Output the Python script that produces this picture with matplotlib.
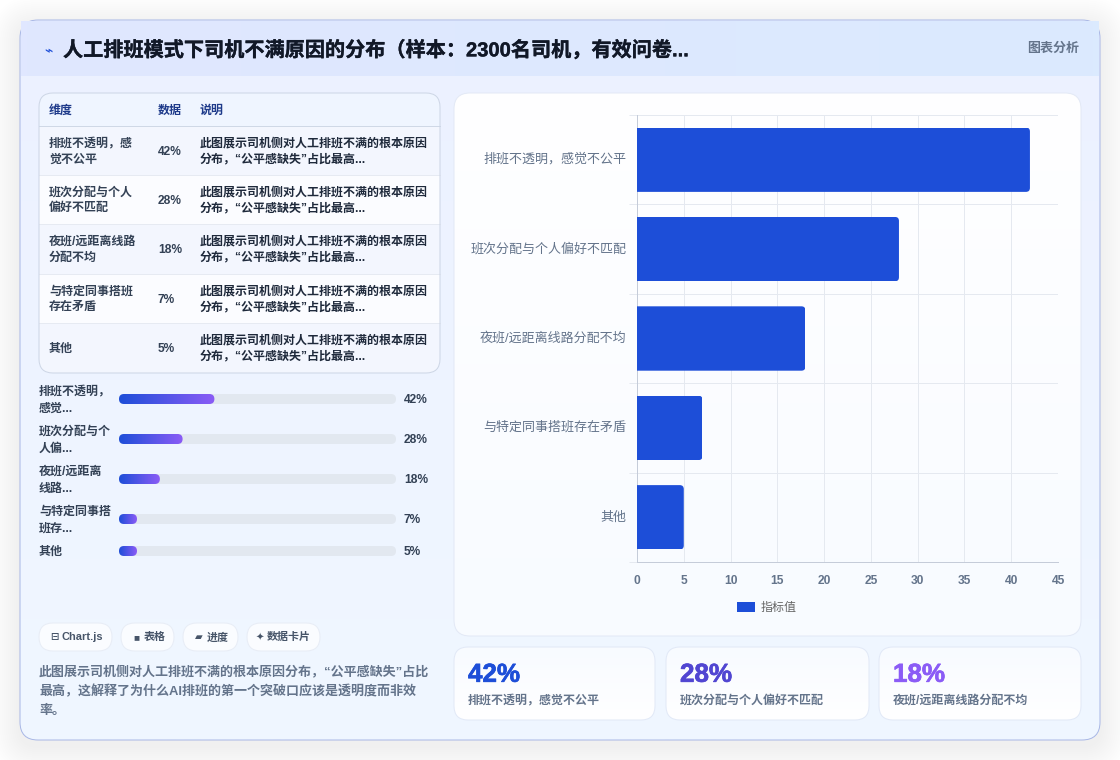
"""
plot.py
-------
Dashboard card: reasons drivers give for disliking manual scheduling.
Table, progress bars, horizontal bar chart and KPI cards. Saves out.png.
"""

import numpy as np
import matplotlib
matplotlib.use("Agg")
import matplotlib.pyplot as plt
import matplotlib.patheffects as pe
from matplotlib.colors import LinearSegmentedColormap
from matplotlib.patches import FancyBboxPatch, Rectangle

plt.rcParams["font.family"] = ["Liberation Sans", "Noto Sans CJK SC", "DejaVu Sans"]
plt.rcParams["text.kerning_factor"] = 0

TITLE = "人工排班模式下司机不满原因的分布（样本：2300名司机，有效问卷..."
BADGE = "图表分析"

reasons = ["排班不透明，感觉不公平", "班次分配与个人偏好不匹配", "夜班/远距离线路分配不均",
           "与特定同事搭班存在矛盾", "其他"]
values = [42, 28, 18, 7, 5]

table_header = ["维度", "数据", "说明"]
table_names = [["排班不透明，感", "觉不公平"], ["班次分配与个人", "偏好不匹配"],
               ["夜班/远距离线路", "分配不均"], ["与特定同事搭班", "存在矛盾"], ["其他"]]
table_note = ["此图展示司机侧对人工排班不满的根本原因", "分布，“公平感缺失”占比最高..."]

progress_names = [["排班不透明，", "感觉..."], ["班次分配与个", "人偏..."], ["夜班/远距离", "线路..."],
                  ["与特定同事搭", "班存..."], ["其他"]]

chip_icons = ["⊟", "■", "▰", "✦"]
chip_texts = ["Chart.js", "表格", "进度", "数据卡片"]
chip_spans = [(39, 112), (121, 174), (183, 238), (247, 320)]

footer_lines = ["此图展示司机侧对人工排班不满的根本原因分布，“公平感缺失”占比",
                "最高，这解释了为什么AI排班的第一个突破口应该是透明度而非效",
                "率。"]

kpi_colors = ["#1d4ed8", "#5146d2", "#8b5cf6"]

PX = 72 / 100  # css px to points at dpi=100
HAIR = 0.72    # 1 css px line
BAR_BLUE = "#1d4ed8"
DARK = "#1e293b"
GREY = "#64748b"


def rounded(x0, y0, x1, y1, r, **kw):
    return FancyBboxPatch((x0 + r, y0 + r), x1 - x0 - 2 * r, y1 - y0 - 2 * r,
                          boxstyle=f"round,pad={r},rounding_size={r}", **kw)


def gradient(ax, x0, y0, x1, y1, c0, c1, clip=None, vertical=False, zorder=1):
    cmap = LinearSegmentedColormap.from_list("g", [c0, c1])
    ramp = np.linspace(0, 1, 256).reshape(-1, 1) if vertical else np.linspace(0, 1, 256).reshape(1, -1)
    im = ax.imshow(ramp, cmap=cmap, extent=(x0, x1, y1, y0), aspect="auto",
                   interpolation="bilinear", zorder=zorder)
    if clip is not None:
        ax.add_patch(clip)
        clip.set_visible(False)
        im.set_clip_path(clip)
    return im


def label(ax, x, y, s, px, color=DARK, weight="normal", ha="left", **kw):
    # +0.8 sits the glyphs on the row centre for this font pair
    return ax.text(x, y + 0.8, s, fontsize=px * PX, color=color, fontweight=weight, ha=ha, va="center", **kw)


def draw_card(pg):
    # soft drop shadow, built from stacked translucent outlines
    for grow in range(30, 0, -2):
        pg.add_patch(rounded(20 - grow, 26 - grow, 1100 + grow, 746 + grow, 18 + grow,
                             fc="#1e293b", ec="none", alpha=0.002, zorder=0.5))
    shape = rounded(20, 20, 1100, 740, 18, fc="none", ec="none")
    gradient(pg, 20, 20, 1100, 740, "#ecf1ff", "#f0f7ff", clip=shape, vertical=True)
    pg.add_patch(rounded(20, 20, 1100, 740, 18, fc="none", ec="#a9b8e6", lw=HAIR, zorder=1.5))

    # header band runs square to the card edge
    gradient(pg, 21, 21, 1099, 76, "#e0e7ff", "#dbeafe", zorder=2)
    label(pg, 48, 50, "⌁", 14, color=BAR_BLUE, weight="bold", ha="center", zorder=4)
    label(pg, 63, 49.5, TITLE, 20.15, color="#111827", weight="bold", zorder=4,
          path_effects=[pe.withStroke(linewidth=0.25, foreground="#111827")])
    label(pg, 1079, 47.5, BADGE, 13, color=GREY, weight="bold", ha="right", zorder=4)


def draw_table(pg):
    pg.add_patch(rounded(39, 93, 440, 373, 14, fc="#f4f7ff", ec="none", zorder=2))
    shape = rounded(39, 93, 440, 373, 14, fc="none", ec="none")
    pg.add_patch(shape)
    shape.set_visible(False)

    rows = [126, 175, 224, 274, 323, 373]
    fills = ["#f3f6fe", "#fbfcff", "#f3f6fe", "#fbfcff", "#f3f6fe"]
    head = Rectangle((39, 93), 401, 33, fc="#eff5ff", ec="none", zorder=2.1)
    pg.add_patch(head)
    head.set_clip_path(shape)
    for i, fill in enumerate(fills):
        band = Rectangle((39, rows[i]), 401, rows[i + 1] - rows[i], fc=fill, ec="none", zorder=2.1)
        pg.add_patch(band)
        band.set_clip_path(shape)
        if i < 4:
            pg.plot([39, 440], [rows[i + 1]] * 2, color="#e6eaf2", lw=HAIR, zorder=2.2)
    pg.plot([39, 440], [126, 126], color="#cfd8e6", lw=HAIR, zorder=2.2)
    pg.add_patch(rounded(39, 93, 440, 373, 14, fc="none", ec="#cdd6e6", lw=HAIR, zorder=2.3))

    for x, s in zip([49, 158, 200], table_header):
        label(pg, x, 110, s, 12, color="#1e3a8a", weight="bold", zorder=3)

    for i, (names, v) in enumerate(zip(table_names, values)):
        mid = (rows[i] + rows[i + 1]) / 2
        if len(names) == 1:
            label(pg, 49, mid, names[0], 12, weight="bold", color="#334155", zorder=3)
        else:
            label(pg, 49, mid - 8, names[0], 12, weight="bold", color="#334155", zorder=3)
            label(pg, 49, mid + 8, names[1], 12, weight="bold", color="#334155", zorder=3)
        label(pg, 158, mid + 0.5, f"{v}%", 12, weight="bold", color="#334155", zorder=3)
        label(pg, 200, mid - 8, table_note[0], 12, weight="bold", zorder=3)
        label(pg, 200, mid + 8, table_note[1], 12, weight="bold", zorder=3)


def draw_progress(pg):
    track_x0, track_x1 = 119, 396
    centers = [399, 439, 479, 519, 551]
    for names, v, cy in zip(progress_names, values, centers):
        if len(names) == 1:
            label(pg, 39, cy + 0.5, names[0], 12, weight="bold", color="#334155", zorder=3)
        else:
            label(pg, 39, cy - 8, names[0], 12, weight="bold", color="#334155", zorder=3)
            label(pg, 39, cy + 9, names[1], 12, weight="bold", color="#334155", zorder=3)
        pg.add_patch(rounded(track_x0, cy - 5, track_x1, cy + 5, 5, fc="#e2e8f0", ec="none", zorder=2))
        # fill length follows the value, with an 18px minimum
        w = max(18, (track_x1 - track_x0) * v * 0.82 / 100)
        clip = rounded(track_x0, cy - 5, track_x0 + w, cy + 5, 5, fc="none", ec="none")
        gradient(pg, track_x0, cy - 5, track_x0 + w, cy + 5, "#1d4ed8", "#8b5cf6", clip=clip, zorder=2.5)
        label(pg, 404, cy + 0.5, f"{v}%", 12, weight="bold", color="#334155", zorder=3)


def draw_footer(pg):
    icon_x = [54, 136, 198.5, 260]
    text_x = [62, 144, 207, 267]
    for (x0, x1), icon, s, ix, tx in zip(chip_spans, chip_icons, chip_texts, icon_x, text_x):
        pg.add_patch(rounded(x0, 623, x1, 651, 14, fc="#fafcff", ec="#e8edf6", lw=HAIR, zorder=2))
        label(pg, ix, 636.5, icon, 10, color="#475569", weight="bold", ha="center", zorder=3)
        label(pg, tx, 636.5, s, 11, color="#475569", weight="bold", zorder=3)
    for y, s in zip([672, 691, 711], footer_lines):
        label(pg, 39, y - 0.5, s, 13, color=GREY, weight="bold", zorder=3)


def draw_kpis(pg):
    spans = [(454, 655), (666, 869), (879, 1081)]
    for (x0, x1), name, v, color in zip(spans, reasons, values, kpi_colors):
        clip = rounded(x0, 647, x1, 720, 14, fc="none", ec="none")
        gradient(pg, x0, 647, x1, 720, "#f8fbff", "#ffffff", clip=clip, vertical=True, zorder=2)
        pg.add_patch(rounded(x0, 647, x1, 720, 14, fc="none", ec="#e2e9f7", lw=HAIR, zorder=2.2))
        label(pg, x0 + 14, 674, f"{v}%", 26, color=color, weight="bold", zorder=3,
              path_effects=[pe.withStroke(linewidth=0.5, foreground=color)])
        label(pg, x0 + 14, 700, name, 12, color=GREY, weight="bold", zorder=3)


def draw_chart(fig, pg):
    clip = rounded(454, 93, 1081, 636, 16, fc="none", ec="none")
    gradient(pg, 454, 93, 1081, 636, "#ffffff", "#f8fbff", clip=clip, vertical=True, zorder=2)
    pg.add_patch(rounded(454, 93, 1081, 636, 16, fc="none", ec="#e3e9f6", lw=HAIR, zorder=2.2))

    W, H = 1120, 760
    x0, x1, y0, y1 = 637, 1058, 115, 562
    ax = fig.add_axes([x0 / W, 1 - y1 / H, (x1 - x0) / W, (y1 - y0) / H], zorder=5)
    ax.patch.set_alpha(0)

    pos = np.arange(len(reasons))
    bars = ax.barh(pos, values, height=0.72, color=BAR_BLUE, label="指标值", zorder=3)
    ax.set_xlim(0, 45)
    ax.set_ylim(len(reasons) - 0.5, -0.5)
    ax.set_xticks(np.arange(0, 50, 5))
    ax.set_yticks(pos, reasons)
    ax.set_yticks(np.arange(-0.5, len(reasons)), minor=True)
    ax.grid(True, axis="x", color="#e5e9f0", lw=HAIR, zorder=0)
    ax.grid(True, axis="y", which="minor", color="#e5e9f0", lw=HAIR, zorder=0)
    ax.grid(False, axis="y", which="major")

    for side in ["top", "right"]:
        ax.spines[side].set_visible(False)
    for side in ["left", "bottom"]:
        ax.spines[side].set_color("#c5ccd9")
        ax.spines[side].set_linewidth(HAIR)
    ax.tick_params(axis="x", length=0, pad=9.5, labelsize=12 * PX, labelcolor=GREY)
    ax.tick_params(axis="y", which="major", length=0, pad=7.5, labelsize=13 * PX, labelcolor=GREY)
    ax.tick_params(axis="y", which="minor", length=6, color="#e5e9f0", width=HAIR)
    for t in ax.get_xticklabels():
        t.set_fontweight("bold")
    for t in ax.get_yticklabels():
        t.set_y(t.get_position()[1])
        t.set_verticalalignment("center")

    # round the free end of each bar; the base stays square against the axis
    to_px = pg.transData.inverted()
    for bar in bars:
        (bx0, by0), (bx1, by1) = to_px.transform(bar.get_window_extent().get_points())
        by0, by1 = min(by0, by1), max(by0, by1)
        shape = rounded(bx0 - 8, by0, bx1, by1, 4, fc="none", ec="none", transform=pg.transData)
        bar.set_clip_path(shape)

    ax.legend(loc="center", bbox_to_anchor=(767 / W, 1 - 608 / H), bbox_transform=fig.transFigure,
              frameon=False, fontsize=12 * PX, labelcolor="#666666", handlelength=1.5,
              handleheight=0.9, handletextpad=0.5, borderpad=0)


def main():
    fig = plt.figure(figsize=(11.2, 7.6), dpi=100, facecolor="white")
    pg = fig.add_axes([0, 0, 1, 1])
    pg.axis("off")

    draw_card(pg)
    draw_table(pg)
    draw_progress(pg)
    draw_footer(pg)
    draw_kpis(pg)
    pg.set_xlim(0, 1120)
    pg.set_ylim(760, 0)
    draw_chart(fig, pg)
    pg.set_xlim(0, 1120)
    pg.set_ylim(760, 0)

    fig.savefig("out.png", dpi=100)


if __name__ == "__main__":
    main()
